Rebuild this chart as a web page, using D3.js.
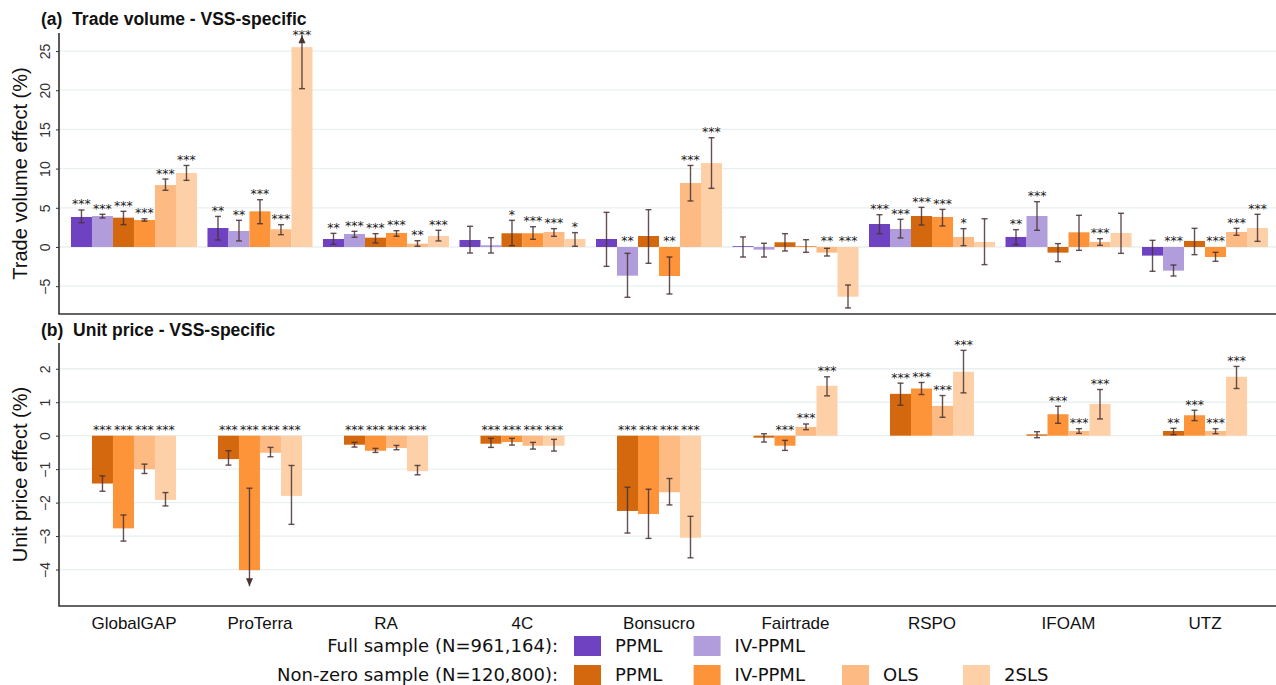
<!DOCTYPE html>
<html>
<head>
<meta charset="utf-8">
<script src="https://cdn.jsdelivr.net/npm/d3@7"></script>
<style>
body { margin: 0; background: #fff; }
svg { display: block; }
</style>
</head>
<body>
<div id="chart"></div>
<script>
// VSS categories
var vss = ["GlobalGAP", "ProTerra", "RA", "4C", "Bonsucro", "Fairtrade", "RSPO", "IFOAM", "UTZ"];

// series order in panel (a): full PPML, full IV-PPML, nz PPML, nz IV-PPML, nz OLS, nz 2SLS
var volSeries = ["fullPPML", "fullIV", "nzPPML", "nzIV", "nzOLS", "nz2SLS"];
// panel (b) only has the non-zero sample
var priceSeries = ["nzPPML", "nzIV", "nzOLS", "nz2SLS"];

// (a) trade volume estimates, one row per series
var volEst = [
    [3.83, 2.42, 1.02, 0.89, 1.02, 0.10, 2.93, 1.28, -1.10],
    [3.95, 2.04, 1.66, 0.22, -3.66, -0.34, 2.30, 3.95, -3.02],
    [3.74, null, 1.19, 1.75, 1.40, 0.60, 3.95, -0.72, 0.77],
    [3.44, 4.55, 1.79, 1.75, -3.70, 0.13, 3.83, 1.87, -1.28],
    [7.90, 2.26, 0.42, 1.91, 8.16, -0.72, 1.28, 0.64, 1.91],
    [9.44, 25.5, 1.40, 1.02, 10.7, -6.34, 0.64, 1.79, 2.42]
];
var volLo = [
    [3.10, 0.89, 0.34, -0.77, -2.47, -1.28, 1.70, 0.30, -3.10],
    [3.70, 0.77, 1.24, -0.77, -6.42, -1.28, 1.15, 2.13, -3.70],
    [2.85, null, 0.51, 0.17, -2.08, -0.51, 2.80, -1.87, -0.98],
    [3.30, 2.97, 1.37, 0.98, -6.00, -0.68, 2.68, -0.43, -1.83],
    [7.23, 1.57, 0.09, 1.36, 5.87, -1.15, 0.17, 0.21, 1.49],
    [8.50, 20.2, 0.77, 0.09, 7.48, -7.78, -2.25, -0.81, 0.72]
];
var volHi = [
    [4.72, 3.90, 1.74, 2.64, 4.42, 1.28, 4.12, 2.21, 0.85],
    [4.17, 3.40, 2.00, 1.19, -0.81, 0.47, 3.53, 5.78, -2.30],
    [4.55, null, 1.70, 3.40, 4.76, 1.70, 5.06, 0.43, 2.38],
    [3.60, 6.03, 2.08, 2.59, -1.28, 0.93, 4.80, 4.04, -0.68],
    [8.67, 2.85, 0.80, 2.34, 10.4, -0.17, 2.34, 1.06, 2.38],
    [10.4, 30.8, 2.13, 1.83, 13.94, -4.85, 3.60, 4.30, 4.17]
];
var volStars = [
    ["***", "**", "**", "", "", "", "***", "**", ""],
    ["***", "**", "***", "", "**", "", "***", "***", "***"],
    ["***", "", "***", "*", "", "", "***", "", ""],
    ["***", "***", "***", "***", "**", "", "***", "", "***"],
    ["***", "***", "**", "***", "***", "**", "*", "***", "***"],
    ["***", "***", "***", "*", "***", "***", "", "", "***"]
];

// (b) unit price estimates
var priceEst = [
    [-1.43, -0.70, -0.27, -0.24, -2.25, -0.06, 1.25, 0.04, 0.14],
    [-2.77, -4.02, -0.45, -0.19, -2.34, -0.30, 1.41, 0.64, 0.61],
    [-1.00, -0.51, -0.37, -0.30, -1.69, 0.26, 0.89, 0.14, 0.14],
    [-1.92, -1.80, -1.06, -0.30, -3.05, 1.49, 1.91, 0.95, 1.76]
];
var priceLo = [
    [-1.66, -0.88, -0.34, -0.35, -2.91, -0.19, 0.91, -0.06, 0.03],
    [-3.15, -6.47, -0.50, -0.28, -3.07, -0.44, 1.23, 0.37, 0.45],
    [-1.13, -0.63, -0.42, -0.40, -2.07, 0.18, 0.55, 0.07, 0.06],
    [-2.10, -2.65, -1.17, -0.46, -3.65, 1.19, 1.28, 0.50, 1.41]
];
var priceHi = [
    [-1.20, -0.45, -0.20, -0.08, -1.54, 0.06, 1.57, 0.12, 0.22],
    [-2.37, -1.57, -0.38, -0.08, -1.60, -0.14, 1.59, 0.88, 0.76],
    [-0.85, -0.35, -0.29, -0.20, -1.28, 0.35, 1.20, 0.21, 0.21],
    [-1.70, -0.89, -0.89, -0.11, -2.41, 1.76, 2.55, 1.38, 2.07]
];
var priceStars = [
    ["***", "***", "***", "***", "***", "", "***", "", "**"],
    ["***", "***", "***", "***", "***", "***", "***", "***", "***"],
    ["***", "***", "***", "***", "***", "***", "***", "***", "***"],
    ["***", "***", "***", "***", "***", "***", "***", "***", "***"]
];

var volTicks = [-5, 0, 5, 10, 15, 20, 25];
var priceTicks = [-4, -3, -2, -1, 0, 1, 2];

// legend
var legendRows = ["Full sample (N=961,164):", "Non-zero sample (N=120,800):"];
var legendItems = [
    [["fullPPML", "PPML"], ["fullIV", "IV-PPML"]],
    [["nzPPML", "PPML"], ["nzIV", "IV-PPML"], ["nzOLS", "OLS"], ["nz2SLS", "2SLS"]]
];

var color = d3.scaleOrdinal()
    .domain(["fullPPML", "fullIV", "nzPPML", "nzIV", "nzOLS", "nz2SLS"])
    .range(["#6f42c1", "#b29ddc", "#d4680f", "#fd943a", "#fdbb83", "#fed0a7"]);

var W = 1276, H = 685;
var plotLeft = 59, plotRight = 1276;
var errCol = "#4a3333";
var tickFont = "'Liberation Sans', Arial, sans-serif";

var svg = d3.select("#chart").append("svg")
    .attr("width", W)
    .attr("height", H);

// bar slots: groups laid out one after another, gap of half a bar between groups
var gap = 0.5;
var counts = vss.map(function (c, i) {
    return volEst.filter(function (row) { return row[i] !== null; }).length;
});
var starts = [];
var acc = 0;
counts.forEach(function (n) { starts.push(acc); acc += n + gap; });
var totalUnits = acc - gap;
var centers = starts.map(function (s, i) { return s + counts[i] / 2; });

var x = d3.scaleLinear()
    .domain([-0.57, totalUnits + 0.38])
    .range([plotLeft, plotRight]);
var bw = x(1) - x(0);

// build bar records
var volBars = [];
vss.forEach(function (c, i) {
    var k = 0;
    volSeries.forEach(function (s, j) {
        if (volEst[j][i] === null) return;
        volBars.push({ s: s, u: starts[i] + k, v: volEst[j][i], lo: volLo[j][i], hi: volHi[j][i], st: volStars[j][i] });
        k++;
    });
});
var priceBars = [];
vss.forEach(function (c, i) {
    priceSeries.forEach(function (s, j) {
        priceBars.push({ s: s, u: centers[i] - priceSeries.length / 2 + j, v: priceEst[j][i], lo: priceLo[j][i], hi: priceHi[j][i], st: priceStars[j][i] });
    });
});

function panel(opt) {
    var y = d3.scaleLinear().domain(opt.domain).range([opt.bottom, opt.top]);
    var g = svg.append("g");

    // grid
    g.append("g").selectAll("line")
        .data(opt.ticks)
        .enter().append("line")
        .attr("x1", plotLeft).attr("x2", plotRight)
        .attr("y1", function (d) { return y(d); })
        .attr("y2", function (d) { return y(d); })
        .attr("stroke", "#e9f0ef")
        .attr("stroke-width", 1.3);

    // bars
    g.append("g").selectAll("rect")
        .data(opt.bars)
        .enter().append("rect")
        .attr("x", function (d) { return x(d.u); })
        .attr("width", bw)
        .attr("y", function (d) { return y(Math.max(d.v, 0)); })
        .attr("height", function (d) { return Math.abs(y(d.v) - y(0)); })
        .attr("fill", function (d) { return color(d.s); });

    // error bars
    var eb = g.append("g").selectAll("g")
        .data(opt.bars)
        .enter().append("g")
        .attr("transform", function (d) { return "translate(" + (x(d.u) + bw / 2) + ",0)"; });

    eb.each(function (d) {
        var e = d3.select(this);
        var hiC = Math.min(d.hi, opt.clipHi), loC = Math.max(d.lo, opt.clipLo);
        e.append("line")
            .attr("y1", y(loC)).attr("y2", y(hiC))
            .attr("stroke", errCol).attr("stroke-width", 1.4).attr("opacity", 0.85);
        [[d.lo, loC, 1], [d.hi, hiC, -1]].forEach(function (p) {
            if (p[0] === p[1]) {
                e.append("line")
                    .attr("x1", -3).attr("x2", 3)
                    .attr("y1", y(p[1])).attr("y2", y(p[1]))
                    .attr("stroke", errCol).attr("stroke-width", 1.4).attr("opacity", 0.85);
            } else {
                var yt = y(p[1]);
                e.append("path")
                    .attr("d", "M0," + yt + "L-3.5," + (yt - p[2] * 8) + "L3.5," + (yt - p[2] * 8) + "Z")
                    .attr("fill", errCol);
            }
        });
        if (d.st) {
            var ys = d.hi > opt.clipHi ? y(opt.clipHi) + 4 : y(Math.max(d.hi, 0)) - 1.5;
            e.append("text")
                .attr("y", ys)
                .attr("text-anchor", "middle")
                .style("font-family", "'DejaVu Sans', sans-serif")
                .style("font-size", "12.5px")
                .attr("fill", "#1a1a1a")
                .text(d.st);
        }
    });

    // y axis
    var ax = g.append("g")
        .attr("transform", "translate(" + plotLeft + ",0)")
        .call(d3.axisLeft(y).tickValues(opt.ticks).tickSize(3).tickSizeOuter(0).tickFormat(d3.format("d")));
    ax.select(".domain").remove();
    ax.selectAll(".tick line").attr("stroke", "#333");
    ax.selectAll(".tick text")
        .attr("transform", "rotate(-90)")
        .attr("x", 0).attr("y", -9).attr("dy", 0)
        .attr("text-anchor", "middle")
        .attr("fill", "#333")
        .style("font-family", tickFont)
        .style("font-size", "14px");

    // axis lines (left + bottom)
    g.append("path")
        .attr("d", "M" + plotLeft + "," + opt.top + "V" + opt.bottom + "H" + plotRight)
        .attr("fill", "none")
        .attr("stroke", "#333")
        .attr("stroke-width", 1.6);

    // y title
    g.append("text")
        .attr("transform", "translate(27," + ((opt.top + opt.bottom) / 2) + ") rotate(-90)")
        .attr("text-anchor", "middle")
        .style("font-family", tickFont)
        .style("font-size", "20px")
        .attr("fill", "#111")
        .text(opt.ylab);

    // panel title
    g.append("text")
        .attr("x", 41).attr("y", opt.titleY)
        .style("font-family", tickFont)
        .style("font-size", "17.5px")
        .style("font-weight", "bold")
        .style("white-space", "pre")
        .attr("fill", "#111")
        .text(opt.title);
}

panel({
    domain: [-8.55, 27.3], top: 33, bottom: 314, ticks: volTicks, bars: volBars,
    clipHi: 27, clipLo: -100, ylab: "Trade volume effect (%)",
    title: "(a)  Trade volume - VSS-specific", titleY: 25
});
panel({
    domain: [-5.09, 2.77], top: 343, bottom: 606, ticks: priceTicks, bars: priceBars,
    clipHi: 100, clipLo: -4.5, ylab: "Unit price effect (%)",
    title: "(b)  Unit price - VSS-specific", titleY: 336
});

// x labels
svg.append("g").selectAll("text")
    .data(vss)
    .enter().append("text")
    .attr("x", function (d, i) { return x(centers[i]); })
    .attr("y", 629)
    .attr("text-anchor", "middle")
    .style("font-family", tickFont)
    .style("font-size", "17px")
    .attr("fill", "#111")
    .text(function (d) { return d; });

// legend
var legFont = "'DejaVu Sans', Verdana, sans-serif";
var colX = [574, 693.6, 842, 963];
var rowY = [646, 675];
var leg = svg.append("g");
legendRows.forEach(function (lab, r) {
    leg.append("text")
        .attr("x", 558).attr("y", rowY[r] + 6)
        .attr("text-anchor", "end")
        .style("font-family", legFont)
        .style("font-size", "18px")
        .attr("fill", "#111")
        .text(lab);
    legendItems[r].forEach(function (it, c) {
        leg.append("rect")
            .attr("x", colX[c]).attr("y", rowY[r] - 10)
            .attr("width", 27).attr("height", 20)
            .attr("fill", color(it[0]));
        leg.append("text")
            .attr("x", colX[c] + 41).attr("y", rowY[r] + 6)
            .style("font-family", legFont)
            .style("font-size", "18px")
            .attr("fill", "#111")
            .text(it[1]);
    });
});
</script>
</body>
</html>
